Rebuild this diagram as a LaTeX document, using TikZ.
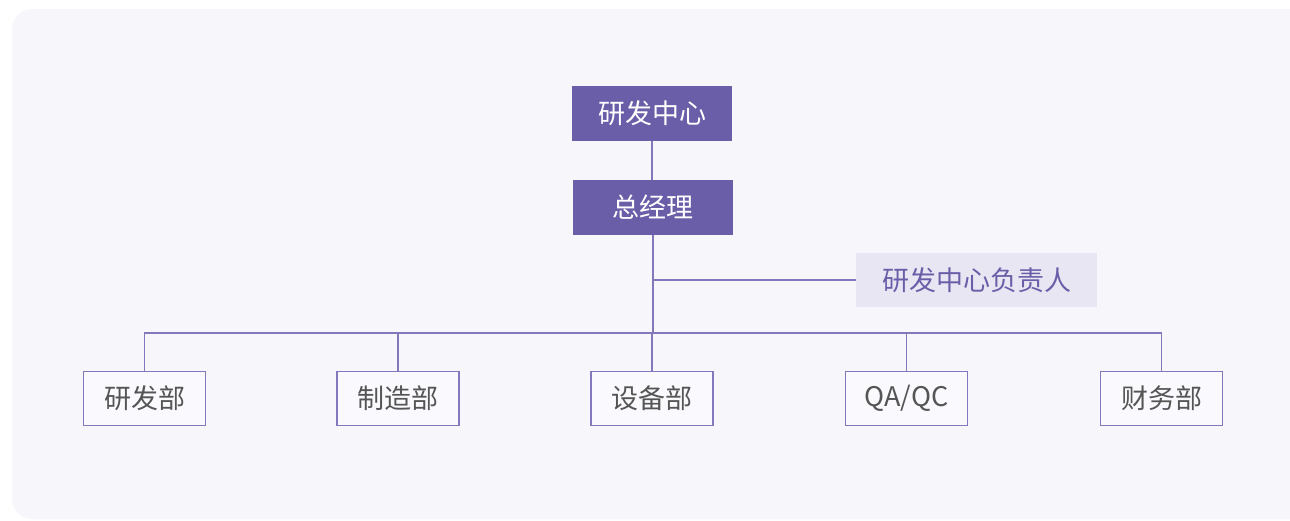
\documentclass[tikz,border=0pt]{standalone}
\usepackage{fontspec}
\setmainfont{Noto Sans CJK SC}
\definecolor{bgc}{HTML}{F7F6FB}
\definecolor{purp}{HTML}{6B5EA8}
\definecolor{lightp}{HTML}{E8E6F3}
\definecolor{linec}{HTML}{8478BC}
\definecolor{txtg}{HTML}{555555}
\definecolor{boxf}{HTML}{FAF9FD}
\begin{document}
\begin{tikzpicture}[x=1pt,y=-1pt,
  topbox/.style={fill=purp,draw=none,text=white,minimum width=160pt,minimum height=55pt,inner sep=0pt,font=\fontsize{27}{32}\selectfont},
  sidebox/.style={fill=lightp,draw=none,text=purp,minimum width=241pt,minimum height=54pt,inner sep=0pt,font=\fontsize{27}{32}\selectfont},
  deptbox/.style={fill=boxf,draw=linec,line width=1.3pt,text=txtg,minimum width=122pt,minimum height=54pt,inner sep=0pt,font=\fontsize{27}{32}\selectfont},
  conn/.style={draw=linec,line width=1.3pt}]
\useasboundingbox (0,0) rectangle (1290,520);
\fill[white] (0,0) rectangle (1290,520);
\fill[bgc,rounded corners=20pt] (12,9) rectangle (1310,519);
\node[topbox] (rd) at (652,113.5) {研发中心};
\node[topbox] (gm) at (653,207.5) {总经理};
\node[sidebox] (mgr) at (976.5,280) {研发中心负责人};
\node[deptbox] (d1) at (144.5,398.5) {研发部};
\node[deptbox] (d2) at (398,398.5) {制造部};
\node[deptbox] (d3) at (652,398.5) {设备部};
\node[deptbox] (d4) at (906.5,398.5) {QA/QC};
\node[deptbox] (d5) at (1161.5,398.5) {财务部};
\coordinate (br) at (653,280);
\coordinate (bus) at (653,333);
\draw[conn] (rd.south) -- (rd.south |- gm.north);
\draw[conn] (gm.south) -- (br) -- (mgr.west);
\draw[conn] (br) -- (bus);
\draw[conn] (d1.north) -- (d1.north |- bus) -- (d5.north |- bus) -- (d5.north);
\draw[conn] (d2.north) -- (d2.north |- bus);
\draw[conn] (d3.north) -- (d3.north |- bus);
\draw[conn] (d4.north) -- (d4.north |- bus);
\end{tikzpicture}
\end{document}
